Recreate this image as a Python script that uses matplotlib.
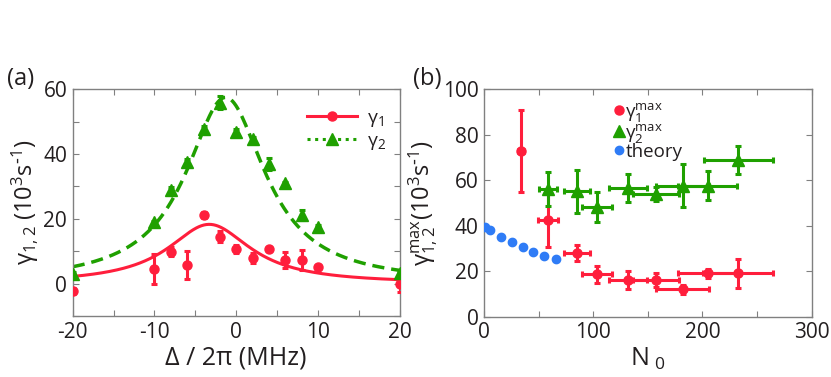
import numpy as np
import matplotlib
matplotlib.use("Agg")
import matplotlib.pyplot as plt

plt.rcParams['font.family'] = ['Open Sans', 'DejaVu Sans']
plt.rcParams['mathtext.default'] = 'regular'
plt.rcParams['axes.unicode_minus'] = False

RED = '#FF1E3C'
GREEN = '#1FA000'
BLUE = '#2F7CF6'
TXT = '#231F20'
GRAY = '#808080'

# ---- panel (a) data ----
detuning = [-20, -10, -8, -6, -4, -2, 0, 2, 4, 6, 8, 10, 20]
gamma1 = [-2.2, 4.5, 9.9, 5.8, 21.2, 14.5, 10.6, 7.8, 10.6, 7.3, 7.3, 5.2, 0.0]
gamma1_err = [1.0, 4.5, 1.5, 4.3, 1.0, 1.8, 1.2, 1.5, 0.0, 2.5, 3.0, 0.0, 2.5]
gamma2 = [3.0, 18.9, 28.9, 37.7, 47.6, 55.9, 46.9, 44.6, 37.0, 31.0, 21.2, 17.6, 3.4]
gamma2_err = [0.5, 0.5, 0.8, 0.8, 1.0, 2.0, 0.8, 0.8, 1.8, 0.5, 1.5, 0.5, 0.5]

# Lorentzian fit parameters (amplitude, centre, half-width)
fit1 = (18.3, -3.3, 6.2)
fit2 = (57.5, -1.3, 5.9)

# ---- panel (b) data ----
n1 = [34, 58.5, 85, 103.5, 132, 157.5, 181.8, 204.7, 232.7]
n1_err = [3, 9, 12, 14, 17.5, 21, 24.5, 27, 32]
g1max = [73, 42.5, 27.9, 18.7, 16.2, 16.0, 12.1, 19.0, 19.0]
g1max_err = [18, 12, 3.5, 3.8, 4.0, 3.0, 2.0, 2.0, 6.4]

n2 = [58.5, 85.3, 103.5, 132, 157.5, 181.8, 204.7, 232.7]
n2_err = [8, 12, 14, 17.5, 21, 24.5, 27, 31.5]
g2max = [56.2, 55.2, 48.2, 56.6, 54.0, 57.7, 57.7, 69.0]
g2max_err = [7.5, 9.5, 6.7, 6.3, 3.0, 9.5, 6.2, 6.2]

n_theory = [0.6, 5.8, 15.8, 25.6, 35.6, 45.3, 55.4, 65.8]
g_theory = [39.6, 38.0, 35.2, 32.8, 30.6, 28.6, 26.7, 25.3]

fig = plt.figure(figsize=(8.31, 3.77), dpi=100)

def style_axes(ax):
    for s in ax.spines.values():
        s.set_color(GRAY)
        s.set_linewidth(1.0)
    ax.tick_params(which='both', direction='in', top=True, right=True,
                   color=GRAY, length=4, width=0.8, labelsize=15,
                   labelcolor=TXT, pad=4)

# ---------------- panel (a) ----------------
ax1 = fig.add_axes([0.0875, 0.1618, 0.3935, 0.6013])
xf = np.linspace(-20, 20, 400)
def lor(x, p):
    A, x0, w = p
    return A / (1 + ((x - x0) / w) ** 2)

ax1.plot(xf, lor(xf, fit1), color=RED, lw=2.2, zorder=2)
ax1.plot(xf, lor(xf, fit2), color=GREEN, lw=2.5, ls=(0, (3.5, 2)), zorder=2)
ax1.errorbar(detuning, gamma1, yerr=gamma1_err, fmt='o', color=RED, ms=6.5,
             elinewidth=2.2, capsize=2.5, capthick=2.2, zorder=3)
ax1.errorbar(detuning, gamma2, yerr=gamma2_err, fmt='^', color=GREEN, ms=8.5,
             elinewidth=2.2, capsize=2.5, capthick=2.2, zorder=3)
ax1.set_xlim(-20, 20)
ax1.set_ylim(-10, 60)
ax1.set_xticks([-20, -10, 0, 10, 20])
ax1.set_xticks(np.arange(-20, 21, 5), minor=True)
ax1.set_yticks([0, 20, 40, 60])
ax1.set_yticks(np.arange(-10, 61, 10), minor=True)
style_axes(ax1)
ax1.set_xlabel('Δ / 2π (MHz)', fontsize=18, color=TXT, labelpad=2)
ax1.set_ylabel(r'$\mathregular{γ_{1,2}}$ (10$^3$s$^{\text{-}1}$)', fontsize=17, color=TXT, labelpad=2)

h1, = ax1.plot([], [], '-o', color=RED, lw=2.2, ms=6.5)
h2, = ax1.plot([], [], ls=(0, (1, 1.5)), marker='^', color=GREEN, lw=2.2, ms=8.5)
leg = ax1.legend([h1, h2], ['γ$_1$', 'γ$_2$'], loc='upper right', frameon=False,
                 fontsize=14, handlelength=2.6, handletextpad=0.5,
                 labelspacing=0.15, bbox_to_anchor=(1.0, 0.975), borderaxespad=0.3)
for t in leg.get_texts():
    t.set_color(TXT)

fig.text(0.008, 0.79, '(a)', fontsize=17, color=TXT, ha='left', va='center')

# ---------------- panel (b) ----------------
ax2 = fig.add_axes([0.5824, 0.16, 0.3943, 0.603])
ax2.errorbar(n1, g1max, xerr=n1_err, yerr=g1max_err, fmt='o', color=RED, ms=6.5,
             elinewidth=2.2, capsize=2.5, capthick=2.2, zorder=3)
ax2.errorbar(n2, g2max, xerr=n2_err, yerr=g2max_err, fmt='^', color=GREEN, ms=8.5,
             elinewidth=2.2, capsize=2.5, capthick=2.2, zorder=3)
ax2.plot(n_theory, g_theory, 'o', color=BLUE, ms=6, zorder=3)
ax2.set_xlim(0, 300)
ax2.set_ylim(0, 100)
ax2.set_xticks([0, 100, 200, 300])
ax2.set_xticks(np.arange(0, 301, 50), minor=True)
ax2.set_yticks(np.arange(0, 101, 20))
style_axes(ax2)
ax2.set_xlabel(r'N$_{\ 0}$', fontsize=18, color=TXT, labelpad=2)
ax2.set_ylabel(r'$\mathregular{γ_{1,2}^{max}}$(10$^3$s$^{\text{-}1}$)', fontsize=17, color=TXT, labelpad=2)

k1, = ax2.plot([], [], 'o', color=RED, ms=6.5)
k2, = ax2.plot([], [], '^', color=GREEN, ms=8.5)
k3, = ax2.plot([], [], 'o', color=BLUE, ms=6)
leg2 = ax2.legend([k1, k2, k3], [r'γ$_1^{max}$', r'γ$_2^{max}$', 'theory'],
                  loc='upper left', bbox_to_anchor=(0.36, 1.0), frameon=False,
                  fontsize=13.5, handlelength=0.6, handletextpad=0.05,
                  labelspacing=-0.1, borderaxespad=0.2)
for t in leg2.get_texts():
    t.set_color(TXT)

fig.text(0.497, 0.79, '(b)', fontsize=17, color=TXT, ha='left', va='center')

fig.savefig('out.png', dpi=100)
